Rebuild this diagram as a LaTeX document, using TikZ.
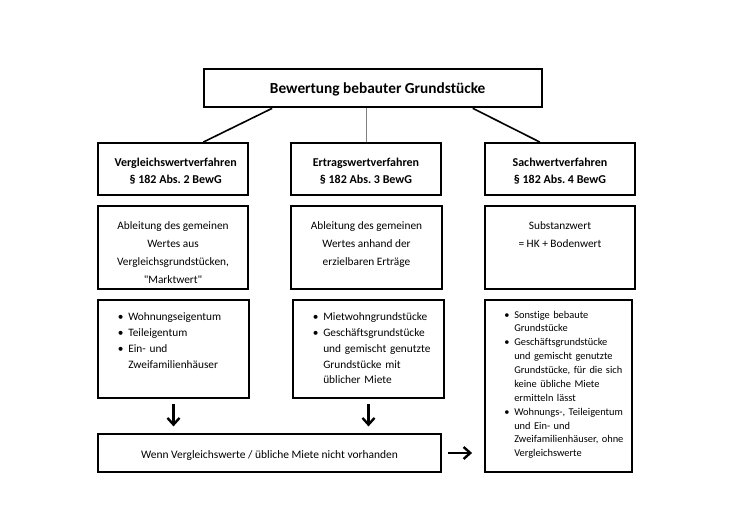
\documentclass[tikz,border=0pt]{standalone}
\usepackage{fontspec}
\setmainfont{Carlito}[Ligatures={TeXOff,NoCommon}]
\usepackage{enumitem}
\usetikzlibrary{fit,calc,arrows.meta}
\frenchspacing
\newcommand{\gerade}{\XeTeXglyph\XeTeXcharglyph"22\relax}

\tikzset{
  box/.style={draw=black, line width=1.4pt, inner sep=0pt},
  kopf/.style={font=\bfseries\fontsize{9}{12.8}\selectfont, align=center, inner sep=0pt},
  inhalt/.style={font=\fontsize{8.5}{13.4}\selectfont, align=center, anchor=north, inner sep=0pt},
  liste/.style={font=\fontsize{8.5}{11.8}\selectfont, anchor=north west, inner sep=0pt, text width=95pt, align=left},
  ast/.style={line width=1.2pt},
  pfeil/.style={line width=1.8pt, -{Straight Barb[length=5pt, width=9pt]}},
}
\newenvironment{punkte}{\raggedright\begin{itemize}[nosep, leftmargin=6pt, labelsep=3.5pt, label=\textbullet]}{\end{itemize}}

\begin{document}
\begin{tikzpicture}[x=0.75pt, y=-0.75pt]
  \useasboundingbox (0,0) rectangle (750,530);
  % Kopf
  \node[box, line width=2pt, fit={(204,69) (542,107)}] (bewertung) {};
  \node[font=\bfseries\fontsize{11.5}{13}\selectfont, inner sep=0pt] (titel) at ([xshift=3.5pt, yshift=-1pt]bewertung.center) {Bewertung bebauter Grundstücke};

  % Verfahren
  \node[box, fit={(98,143) (248,195)}] (vglKopf) {};
  \node[box, fit={(291,143) (441,195)}] (ertKopf) {};
  \node[box, fit={(485,143) (635,195)}] (sachKopf) {};
  \node[kopf] (vglName) at ([xshift=2pt, yshift=-1.5pt]vglKopf.center) {Vergleichswertverfahren\\\S\ 182 Abs. 2 BewG};
  \node[kopf] (ertName) at ([yshift=-1.5pt]ertKopf.center) {Ertragswertverfahren\\\S\ 182 Abs. 3 BewG};
  \node[kopf] (sachName) at ([yshift=-1.5pt]sachKopf.center) {Sachwertverfahren\\\S\ 182 Abs. 4 BewG};

  \draw[ast] ($(bewertung.south west)!0.204!(bewertung.south east)$) -- ($(vglKopf.north west)!0.7!(vglKopf.north east)$);
  \draw[gray, line width=0.6pt] (bewertung.south -| ertKopf.north) -- (ertKopf.north);
  \draw[ast] ($(bewertung.south west)!0.793!(bewertung.south east)$) -- ($(sachKopf.north west)!0.367!(sachKopf.north east)$);

  % Ableitung
  \node[box, fit={(98,206) (248,289)}] (vglInhalt) {};
  \node[box, fit={(291,206) (442,289)}] (ertInhalt) {};
  \node[box, fit={(485,206) (635,289)}] (sachInhalt) {};
  \node[inhalt] (vglText) at ([yshift=-12.5pt]vglInhalt.north) {Ableitung des gemeinen\\Wertes aus\\Vergleichsgrundstücken,\\\gerade Marktwert\gerade};
  \node[inhalt] (ertText) at ([yshift=-12.5pt]ertInhalt.north) {Ableitung des gemeinen\\Wertes anhand der\\erzielbaren Erträge};
  \node[inhalt] (sachText) at ([yshift=-12.5pt]sachInhalt.north) {Substanzwert\\= HK + Bodenwert};

  % Objekte
  \node[box, fit={(98,300) (249,398)}] (vglObjekte) {};
  \node[box, fit={(293,300) (444,398)}] (ertObjekte) {};
  \node[box, fit={(485,300) (632,472)}] (sachObjekte) {};
  \node[liste] (vglListe) at (120,305) {\begin{punkte}
    \item Wohnungseigentum
    \item Teileigentum
    \item Ein- und\newline Zweifamilienhäuser
  \end{punkte}};
  \node[liste] (ertListe) at (315,305) {\begin{punkte}
    \item Mietwohngrundstücke
    \item Geschäftsgrundstücke\newline und gemischt genutzte\newline Grundstücke mit\newline üblicher Miete
  \end{punkte}};
  \node[liste, font=\fontsize{7.8}{10.4}\selectfont] (sachListe) at (506,304) {\begin{punkte}
    \item Sonstige bebaute\newline Grundstücke
    \item Geschäftsgrundstücke\newline und gemischt genutzte\newline Grundstücke, für die sich\newline keine übliche Miete\newline ermitteln lässt
    \item Wohnungs-, Teileigentum\newline und Ein- und\newline Zweifamilienhäuser, ohne\newline Vergleichswerte
  \end{punkte}};

  % Hinweis
  \node[box, fit={(98,434) (441,472)}] (hinweis) {};
  \node[font=\fontsize{8.6}{12}\selectfont, inner sep=0pt] (hinweisText) at ([yshift=-2pt]hinweis.center) {Wenn Vergleichswerte / übliche Miete nicht vorhanden};

  \draw[pfeil, shorten <=3.75pt, shorten >=5pt] (vglObjekte.south) -- (vglObjekte.south |- hinweis.north);
  \draw[pfeil, shorten <=3.75pt, shorten >=5pt] (ertObjekte.south) -- (ertObjekte.south |- hinweis.north);
  \draw[pfeil, shorten <=4.5pt, shorten >=9pt] (hinweis.east) -- (hinweis.east -| sachObjekte.west);
\end{tikzpicture}
\end{document}
